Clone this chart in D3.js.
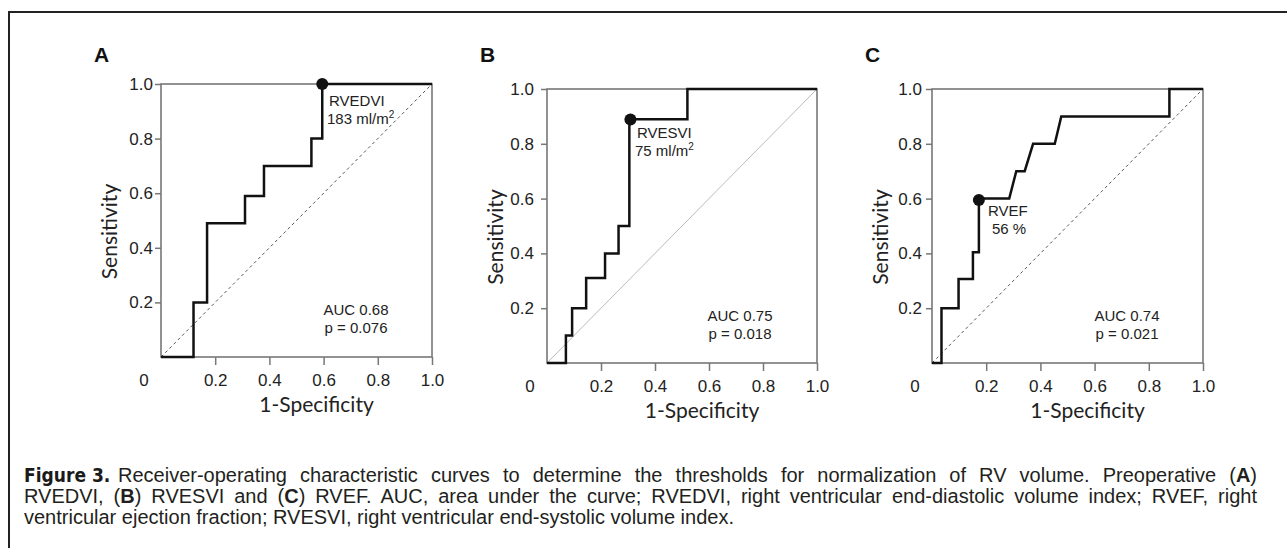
<!DOCTYPE html>
<html>
<head>
<meta charset="utf-8">
<script src="https://cdn.jsdelivr.net/npm/d3@7"></script>
<style>
  body { margin: 0; background: #fff; }
  svg { display: block; }
  .tick text { font-family: "Liberation Sans", Arial, sans-serif; font-size: 17px; fill: #222; }
  .tick line { stroke: #777; stroke-width: 1.5; }
  .title { font-family: Lato, "Open Sans", sans-serif; font-size: 21px; fill: #222; }
  .note { font-family: "Liberation Sans", Arial, sans-serif; font-size: 15px; fill: #222; }
  .caption { font-family: "Liberation Sans", Arial, sans-serif; font-size: 20px; fill: #231f20; }
</style>
</head>
<body>
<svg id="fig" width="1287" height="548"></svg>
<script>
var ticks = [0.2, 0.4, 0.6, 0.8, 1.0];

// panel A - RVEDVI (1-specificity, sensitivity)
var fprA = [0, 0.12, 0.12, 0.17, 0.17, 0.31, 0.31, 0.38, 0.38, 0.555, 0.555, 0.595, 0.595, 1.0];
var tprA = [0, 0, 0.2, 0.2, 0.49, 0.49, 0.59, 0.59, 0.7, 0.7, 0.8, 0.8, 1.0, 1.0];
var cutA = [0.595, 1.0];

// panel B - RVESVI
var fprB = [0, 0.07, 0.07, 0.093, 0.093, 0.145, 0.145, 0.215, 0.215, 0.265, 0.265, 0.305, 0.305, 0.52, 0.52, 1.0];
var tprB = [0, 0, 0.1, 0.1, 0.2, 0.2, 0.31, 0.31, 0.4, 0.4, 0.5, 0.5, 0.89, 0.89, 1.0, 1.0];
var cutB = [0.309, 0.889];

// panel C - RVEF
var fprC = [0, 0.035, 0.035, 0.098, 0.098, 0.151, 0.151, 0.173, 0.173, 0.285, 0.311, 0.342, 0.373, 0.453, 0.477, 0.876, 0.876, 1.0];
var tprC = [0, 0, 0.2, 0.2, 0.307, 0.307, 0.404, 0.404, 0.6, 0.6, 0.7, 0.7, 0.8, 0.8, 0.9, 0.9, 1.0, 1.0];
var cutC = [0.173, 0.595];

var letters = ["A", "B", "C"];
var cutLabels = [["RVEDVI", "183 ml/m", "2"], ["RVESVI", "75 ml/m", "2"], ["RVEF", "56 %", ""]];
var aucLabels = ["AUC 0.68", "AUC 0.75", "AUC 0.74"];
var pLabels = ["p = 0.076", "p = 0.018", "p = 0.021"];

var svg = d3.select("#fig");
svg.append("rect").attr("width", 1287).attr("height", 548).attr("fill", "#fff");

// outer frame (top + left)
svg.append("path")
    .attr("d", "M9,560 L9,12 L1290,12")
    .attr("fill", "none").attr("stroke", "#222").attr("stroke-width", 2);

// layout of each panel box
var panels = [
  {x0: 161, x1: 432, y0: 84, y1: 357, fpr: fprA, tpr: tprA, cut: cutA, diag: "dash",
   cutText: [329, 106], aucText: [356, 315], yPad: 2},
  {x0: 547, x1: 817, y0: 89, y1: 363, fpr: fprB, tpr: tprB, cut: cutB, diag: "solid",
   cutText: [637, 138], aucText: [740, 321], yPad: 7},
  {x0: 932, x1: 1203, y0: 89, y1: 363, fpr: fprC, tpr: tprC, cut: cutC, diag: "dash",
   cutText: [988, 216], aucText: [1127, 321], yPad: 4}
];

panels.forEach(function(p, i) {
  var x = d3.scaleLinear().domain([0, 1]).range([p.x0, p.x1]);
  var y = d3.scaleLinear().domain([0, 1]).range([p.y1, p.y0]);
  var g = svg.append("g");

  // panel letter
  g.append("text")
    .attr("x", p.x0 - 67).attr("y", 62)
    .style("font-family", "Liberation Sans, Arial, sans-serif")
    .style("font-weight", "bold").style("font-size", "21px").attr("fill", "#111")
    .text(letters[i]);

  // axes
  g.append("g")
      .attr("transform", "translate(0," + p.y1 + ")")
      .call(d3.axisBottom(x).tickValues(ticks).tickSize(8).tickPadding(9)
        .tickFormat(d3.format(".1f")))
      .call(function(a) { a.select(".domain").remove(); });

  g.append("g")
      .attr("transform", "translate(" + p.x0 + ",0)")
      .call(d3.axisLeft(y).tickValues(ticks).tickSize(6).tickPadding(p.yPad)
        .tickFormat(d3.format(".1f")))
      .call(function(a) { a.select(".domain").remove(); });

  g.append("text")
    .attr("x", p.x0 - 17).attr("y", p.y1 + 29)
    .attr("text-anchor", "middle")
    .style("font-family", "Liberation Sans, Arial, sans-serif")
    .style("font-size", "17px").attr("fill", "#222")
    .text("0");

  // box
  g.append("rect")
    .attr("x", x(0)).attr("y", y(1))
    .attr("width", x(1) - x(0)).attr("height", y(0) - y(1))
    .attr("fill", "none").attr("stroke", "#777").attr("stroke-width", 1.6);

  // reference diagonal
  var diag = g.append("line")
    .attr("x1", x(0)).attr("y1", y(0)).attr("x2", x(1)).attr("y2", y(1));
  if (p.diag == "dash") {
    diag.attr("stroke", "#555").attr("stroke-width", 1).attr("stroke-dasharray", "3,3");
  } else {
    diag.attr("stroke", "#bbb").attr("stroke-width", 1);
  }

  // ROC curve
  var pts = p.fpr.map(function(d, k) { return [d, p.tpr[k]]; });
  var line = d3.line()
      .x(function(d) { return x(d[0]); })
      .y(function(d) { return y(d[1]); });
  g.append("path")
    .datum(pts)
    .attr("d", line)
    .attr("fill", "none").attr("stroke", "#111").attr("stroke-width", 2.5)
    .attr("stroke-linejoin", "miter");

  g.append("circle")
    .attr("cx", x(p.cut[0])).attr("cy", y(p.cut[1]))
    .attr("r", 6).attr("fill", "#111");

  // cut-off annotation
  g.append("text").attr("class", "note")
    .attr("x", p.cutText[0]).attr("y", p.cutText[1])
    .text(cutLabels[i][0]);
  var t2 = g.append("text").attr("class", "note")
    .attr("x", p.cutText[0] + (i == 2 ? 4 : -2)).attr("y", p.cutText[1] + 18);
  t2.append("tspan").text(cutLabels[i][1]);
  if (cutLabels[i][2]) {
    t2.append("tspan").attr("dy", -6).style("font-size", "10px").text(cutLabels[i][2]);
  }

  g.append("text").attr("class", "note")
    .attr("x", p.aucText[0]).attr("y", p.aucText[1])
    .attr("text-anchor", "middle").text(aucLabels[i]);
  g.append("text").attr("class", "note")
    .attr("x", p.aucText[0]).attr("y", p.aucText[1] + 18)
    .attr("text-anchor", "middle").text(pLabels[i]);

  // axis titles
  g.append("text").attr("class", "title")
    .attr("text-anchor", "middle")
    .attr("transform", "translate(" + (p.x0 - 44) + "," + ((p.y0 + p.y1) / 2 + 11) + ") rotate(-90)")
    .text("Sensitivity");
  g.append("text").attr("class", "title")
    .attr("text-anchor", "middle")
    .attr("x", (p.x0 + p.x1) / 2 + 20).attr("y", p.y1 + 55)
    .text("1-Specificity");
});

// caption
function justify(sel, width) {
  var n = sel.text().split(" ").length - 1;
  var w = sel.node().getComputedTextLength();
  sel.style("word-spacing", ((width - w) / n) + "px");
}

svg.append("text")
  .attr("x", 24).attr("y", 482)
  .style("font-family", "'Liberation Sans Narrow', 'DejaVu Sans Condensed', sans-serif")
  .style("font-weight", "bold").style("font-size", "19px").attr("fill", "#1a1a1a")
  .text("Figure 3.");

var l1 = svg.append("text").attr("class", "caption").attr("x", 118).attr("y", 482);
l1.append("tspan").text("Receiver-operating characteristic curves to determine the thresholds for normalization of RV volume. Preoperative (");
l1.append("tspan").style("font-weight", "bold").text("A");
l1.append("tspan").text(")");
justify(l1, 1257 - 118);

var l2 = svg.append("text").attr("class", "caption").attr("x", 24).attr("y", 503);
l2.append("tspan").text("RVEDVI, (");
l2.append("tspan").style("font-weight", "bold").text("B");
l2.append("tspan").text(") RVESVI and (");
l2.append("tspan").style("font-weight", "bold").text("C");
l2.append("tspan").text(") RVEF. AUC, area under the curve; RVEDVI, right ventricular end-diastolic volume index; RVEF, right");
justify(l2, 1257 - 24);

svg.append("text").attr("class", "caption").attr("x", 24).attr("y", 524)
  .text("ventricular ejection fraction; RVESVI, right ventricular end-systolic volume index.");
</script>
</body>
</html>
